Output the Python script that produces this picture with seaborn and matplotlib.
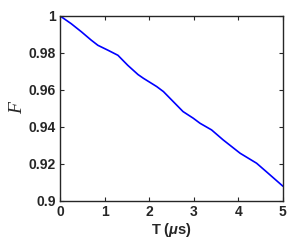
import numpy as np
import pandas as pd
import matplotlib
matplotlib.use("Agg")
import matplotlib.pyplot as plt
import seaborn as sns
from matplotlib.ticker import FormatStrFormatter

# data
T = [0, 0.25, 0.48, 0.70, 0.85, 1.08, 1.30, 1.52, 1.75, 1.87, 2.17,
     2.32, 2.54, 2.76, 2.99, 3.14, 3.40, 3.66, 4.04, 4.41, 4.63, 5.0]
F = [1.0, 0.9958, 0.9914, 0.9869, 0.9841, 0.9814, 0.9787, 0.9733, 0.9683, 0.9663, 0.9618,
     0.9591, 0.9537, 0.9483, 0.9447, 0.9420, 0.9384, 0.9330, 0.9258, 0.9204, 0.9158, 0.908]
xticks = [0, 1, 2, 3, 4, 5]
yticks = [0.9, 0.92, 0.94, 0.96, 0.98, 1.0]

df = pd.DataFrame({"T": T, "F": F})

sns.set_style("ticks")
plt.rcParams["font.family"] = ["Liberation Sans", "DejaVu Sans"]
plt.rcParams["mathtext.fontset"] = "custom"
plt.rcParams["mathtext.it"] = "Liberation Sans:italic:bold"

fig = plt.figure(figsize=(3.0, 2.52), dpi=100)
ax = fig.add_axes([0.2, 0.2024, 0.743, 0.7346])

sns.lineplot(data=df, x="T", y="F", color="#0000ff", linewidth=1.2, ax=ax)

ax.set_xlim(0, 5)
ax.set_ylim(0.9, 1.0)
ax.set_xticks(xticks)
ax.set_yticks(yticks)
ax.yaxis.set_major_formatter(FormatStrFormatter("%g"))
ax.tick_params(direction="in", length=3, width=0.8, colors="#262626",
               top=True, right=True, labelsize=10, pad=3)
for lab in ax.get_xticklabels() + ax.get_yticklabels():
    lab.set_fontweight("bold")
for s in ax.spines.values():
    s.set_visible(True)
    s.set_linewidth(1.0)
    s.set_color("#262626")

ax.set_xlabel(r"T ($\mu$s)", fontsize=10.5, fontweight="bold", color="#262626", labelpad=1)
ax.set_ylabel("F", fontsize=14, family="Liberation Serif", style="italic",
              color="#262626", labelpad=2)

fig.savefig("out.png", dpi=100)
